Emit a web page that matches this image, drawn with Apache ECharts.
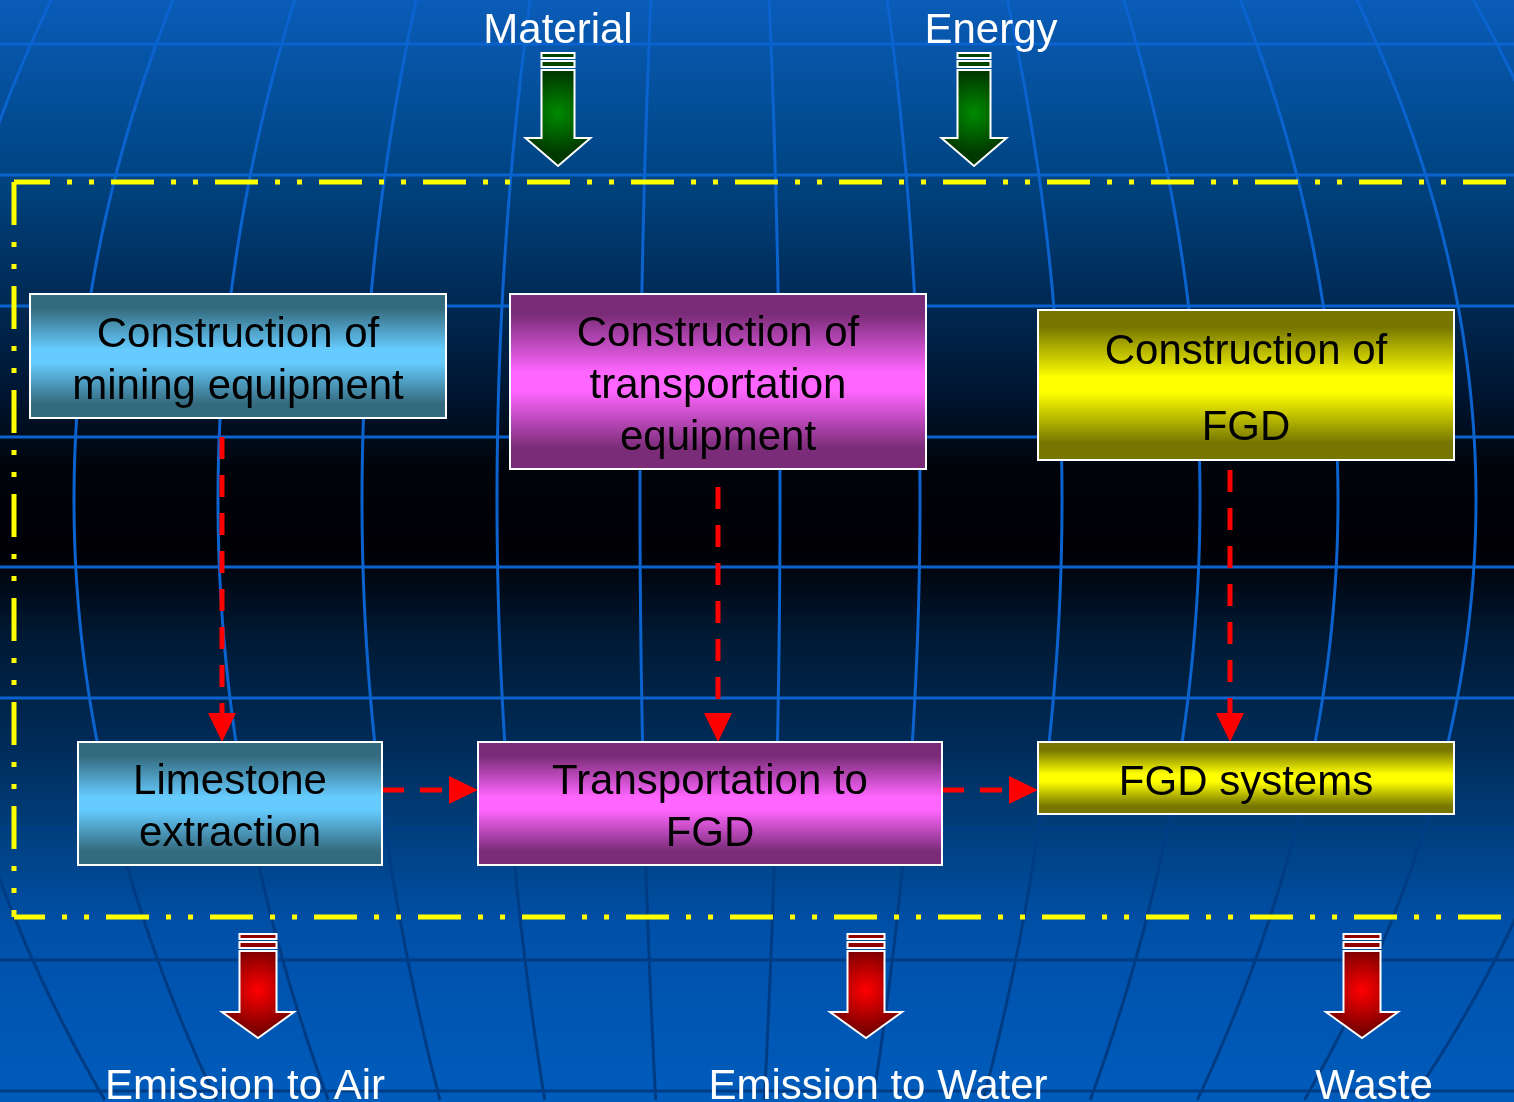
<!DOCTYPE html>
<html>
<head>
<meta charset="utf-8">
<script src="https://cdn.jsdelivr.net/npm/echarts@6/dist/echarts.min.js"></script>
<style>
  html, body {margin: 0; padding: 0; background: #000;}
  #chart {width: 1514px; height: 1102px;}
</style>
</head>
<body>
<div id="chart"></div>
<script>
// --- diagram content ---
const processNames = [
  'Construction of\nmining equipment',
  'Construction of\ntransportation\nequipment',
  'Construction of\nFGD',
  'Limestone\nextraction',
  'Transportation to\nFGD',
  'FGD systems'
];
const processGroups = [0, 1, 2, 0, 1, 2]; // colour family of each box
const flowFrom = [0, 1, 2, 3, 4];
const flowTo = [3, 4, 5, 4, 5];
const inputNames = ['Material', 'Energy'];
const outputNames = ['Emission to Air', 'Emission to Water', 'Waste'];

// --- layout, in diagram units (axis spans the whole slide) ---
const W = 1514, H = 1102;
const boxRects = [
  [30, 294, 446, 418],
  [510, 294, 926, 469],
  [1038, 310, 1454, 460],
  [78, 742, 382, 865],
  [478, 742, 942, 865],
  [1038, 742, 1454, 814]
];
const boxLineHeights = [52, 52, 76, 52, 52, 52];
const flowPaths = [
  [222, 437, 222, 742],
  [718, 487, 718, 742],
  [1230, 470, 1230, 742],
  [382, 790, 478, 790],
  [942, 790, 1038, 790]
];
const inputArrowX = [558, 974];
const inputLabelX = [558, 991];
const outputArrowX = [258, 866, 1362];
const outputLabelX = [245, 878, 1374];
// system boundary: top, left and bottom edges (right edge runs off the slide)
const boundaryEdges = [
  [14, 182, 1545, 182],
  [14, 182, 14, 917],
  [14, 917, 1545, 917]
];
const boundaryPhase = [7, 0, 12];

const FONT = '"Liberation Sans", Arial, sans-serif';
const palettes = [
  ['#346a7e', '#66ccff'],
  ['#7a2c78', '#ff66ff'],
  ['#767600', '#ffff00']
];

function renderBox(params, api) {
  const i = params.dataIndex;
  const a = api.coord([api.value(0), api.value(1)]);
  const b = api.coord([api.value(2), api.value(3)]);
  const pal = palettes[processGroups[i]];
  return {
    type: 'group',
    children: [
      {
        type: 'rect',
        shape: {x: a[0], y: a[1], width: b[0] - a[0], height: b[1] - a[1]},
        style: {
          fill: new echarts.graphic.LinearGradient(0, 0, 0, 1, [
            {offset: 0, color: pal[0]},
            {offset: 0.12, color: pal[0]},
            {offset: 0.45, color: pal[1]},
            {offset: 0.55, color: pal[1]},
            {offset: 0.88, color: pal[0]},
            {offset: 1, color: pal[0]}
          ]),
          stroke: '#ffffff',
          lineWidth: 2
        }
      },
      {
        type: 'text',
        style: {
          text: processNames[i],
          x: (a[0] + b[0]) / 2,
          y: (a[1] + b[1]) / 2 + 5,
          align: 'center',
          verticalAlign: 'middle',
          fill: '#000',
          fontSize: 42,
          fontFamily: FONT,
          lineHeight: boxLineHeights[i]
        }
      }
    ]
  };
}

function renderFlow(params, api) {
  const p = api.coord([api.value(0), api.value(1)]);
  const q = api.coord([api.value(2), api.value(3)]);
  const dx = q[0] - p[0], dy = q[1] - p[1];
  const len = Math.hypot(dx, dy);
  const ux = dx / len, uy = dy / len;
  const head = 29, half = 14;
  const bx = q[0] - ux * head, by = q[1] - uy * head;
  return {
    type: 'group',
    children: [
      {type: 'line', shape: {x1: p[0], y1: p[1], x2: bx, y2: by},
        style: {stroke: '#ff0000', lineWidth: 5, lineDash: [22, 16]}},
      {type: 'polygon', shape: {points: [[q[0], q[1]], [bx - uy * half, by + ux * half], [bx + uy * half, by - ux * half]]},
        style: {fill: '#ff0000'}}
    ]
  };
}

const arrowKinds = [
  {sw: 16.5, hw: 32.5, hh: 28, c0: '#008a00', c1: '#003a00', bar: '#004400'},
  {sw: 18.5, hw: 36, hh: 26, c0: '#ff0000', c1: '#700000', bar: '#900000'}
];

function renderBlockArrow(params, api) {
  const cx = api.coord([api.value(0), 0])[0];
  const top = api.coord([0, api.value(1)])[1];
  const tip = api.coord([0, api.value(2)])[1];
  const k = arrowKinds[api.value(3)];
  const base = tip - k.hh;
  const sTop = top + 17;
  const stroke = {stroke: '#ffffff', lineWidth: 2};
  return {
    type: 'group',
    children: [
      {type: 'rect', shape: {x: cx - k.sw, y: top, width: 2 * k.sw, height: 5},
        style: Object.assign({fill: k.bar}, stroke)},
      {type: 'rect', shape: {x: cx - k.sw, y: top + 8, width: 2 * k.sw, height: 6},
        style: Object.assign({fill: k.bar}, stroke)},
      {type: 'polygon', shape: {points: [
        [cx - k.sw, sTop], [cx + k.sw, sTop], [cx + k.sw, base], [cx + k.hw, base],
        [cx, tip], [cx - k.hw, base], [cx - k.sw, base]
      ]},
        style: Object.assign({
          fill: new echarts.graphic.RadialGradient(0.5, 0.45, 0.6, [
            {offset: 0, color: k.c0}, {offset: 1, color: k.c1}
          ])
        }, stroke)}
    ]
  };
}

const labelTexts = inputNames.concat(outputNames);
function renderLabel(params, api) {
  const p = api.coord([api.value(0), api.value(1)]);
  return {
    type: 'text',
    style: {
      text: labelTexts[params.dataIndex],
      x: p[0], y: p[1],
      align: 'center', verticalAlign: 'middle',
      fill: '#ffffff', fontSize: 42, fontFamily: FONT
    }
  };
}

function renderBoundary(params, api) {
  const a = api.coord([api.value(0), api.value(1)]);
  const b = api.coord([api.value(2), api.value(3)]);
  return {
    type: 'line',
    shape: {x1: a[0], y1: a[1], x2: b[0], y2: b[1]},
    style: {
      stroke: '#ffff00', lineWidth: 5,
      lineDash: [43, 17, 5, 17, 5, 17],
      lineDashOffset: boundaryPhase[params.dataIndex]
    }
  };
}

// background mesh (decoration)
const bg = [];
[44, 175, 306, 437, 567, 698, 829, 960, 1091].forEach(y => {
  bg.push({type: 'line', z: 0, silent: true, shape: {x1: 0, y1: y, x2: W, y2: y},
    style: {stroke: y < 800 ? '#0b63cf' : '#003c84', lineWidth: 3}});
});
[-70, 74, 218, 362, 497, 640, 780, 920, 1062, 1200, 1338, 1476, 1614].forEach(xm => {
  const upper = [], lower = [];
  for (let y = 0; y <= H; y += 10) {
    const x = xm + (710 - xm) * 0.224 * Math.pow((y - 500) / 600, 2);
    if (y <= 800) upper.push([x, y]);
    if (y >= 800) lower.push([x, y]);
  }
  bg.push({type: 'polyline', z: 0, silent: true, shape: {points: upper}, style: {stroke: '#0b63cf', lineWidth: 3, fill: null}});
  bg.push({type: 'polyline', z: 0, silent: true, shape: {points: lower}, style: {stroke: '#003c84', lineWidth: 3, fill: null}});
});

const chart = echarts.init(document.getElementById('chart'));
chart.setOption({
  animation: false,
  backgroundColor: new echarts.graphic.LinearGradient(0, 0, 0, 1, [
    {offset: 0, color: '#0a5cb8'},
    {offset: 0.15, color: '#004685'},
    {offset: 0.27, color: '#002a55'},
    {offset: 0.36, color: '#001530'},
    {offset: 0.43, color: '#000308'},
    {offset: 0.5, color: '#000005'},
    {offset: 0.58, color: '#001a35'},
    {offset: 0.68, color: '#002c5a'},
    {offset: 0.76, color: '#004080'},
    {offset: 0.84, color: '#0050a8'},
    {offset: 1, color: '#005cbc'}
  ]),
  graphic: {elements: bg},
  grid: {left: 0, right: 0, top: 0, bottom: 0},
  xAxis: {type: 'value', min: 0, max: W, show: false},
  yAxis: {type: 'value', min: 0, max: H, inverse: true, show: false},
  series: [
    {type: 'custom', name: 'boundary', renderItem: renderBoundary, data: boundaryEdges, clip: false},
    {type: 'custom', name: 'flows', renderItem: renderFlow,
      data: flowFrom.map((f, i) => flowPaths[i])},
    {type: 'custom', name: 'processes', renderItem: renderBox, data: boxRects},
    {type: 'custom', name: 'arrows', renderItem: renderBlockArrow, data: [
      ...inputArrowX.map(x => [x, 53, 166, 0]),
      ...outputArrowX.map(x => [x, 934, 1038, 1])
    ]},
    {type: 'custom', name: 'labels', renderItem: renderLabel, clip: false, data: [
      ...inputLabelX.map(x => [x, 31]),
      ...outputLabelX.map(x => [x, 1087])
    ]}
  ]
});
</script>
</body>
</html>
